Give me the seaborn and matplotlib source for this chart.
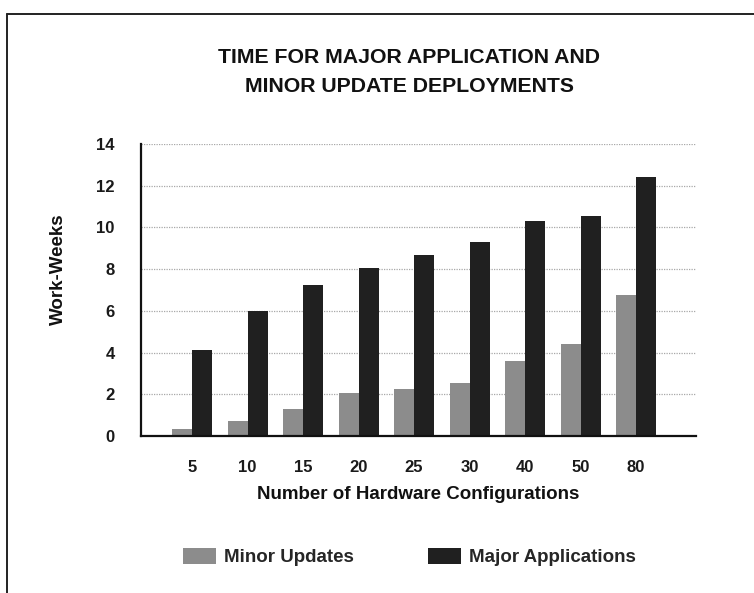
import matplotlib
matplotlib.use("Agg")
import matplotlib.pyplot as plt
from matplotlib.lines import Line2D
from matplotlib.patches import Patch
import numpy as np
import pandas as pd
import seaborn as sns

# Chart data
configs = ["5", "10", "15", "20", "25", "30", "40", "50", "80"]
minor_updates = [0.35, 0.7, 1.3, 2.05, 2.25, 2.55, 3.6, 4.4, 6.75]
major_apps = [4.1, 6.0, 7.25, 8.05, 8.7, 9.3, 10.3, 10.55, 12.4]
series_names = ["Minor Updates", "Major Applications"]
y_ticks = [0, 2, 4, 6, 8, 10, 12, 14]

title_text = "TIME FOR MAJOR APPLICATION AND\nMINOR UPDATE DEPLOYMENTS"
x_label = "Number of Hardware Configurations"
y_label = "Work-Weeks"

colors = {"Minor Updates": "#8c8c8c", "Major Applications": "#202020"}

df = pd.DataFrame({
    "config": configs * 2,
    "weeks": minor_updates + major_apps,
    "series": [series_names[0]] * len(configs) + [series_names[1]] * len(configs),
})

sns.set_theme(style="white")
plt.rcParams["font.family"] = ["Liberation Sans", "DejaVu Sans"]

fig = plt.figure(figsize=(7.54, 5.93), dpi=100)
fig.patch.set_facecolor("white")
W, H = 754, 593
ax = fig.add_axes([141 / W, (H - 436) / H, (696 - 141) / W, (436 - 144) / H])

sns.barplot(data=df, x="config", y="weeks", hue="series", order=configs,
            hue_order=series_names, palette=colors, width=0.72,
            saturation=1, edgecolor="none", linewidth=0, legend=False, ax=ax)

ax.set_xlim(-0.92, 9.08)
ax.set_ylim(0, 14)
ax.set_yticks(y_ticks)
ax.set_yticklabels([str(v) for v in y_ticks], fontsize=12, fontweight="bold",
                   color="#1a1a1a")
ax.set_xticks(range(len(configs)))
ax.set_xticklabels(configs, fontsize=12, fontweight="bold", color="#1a1a1a")
ax.tick_params(axis="y", length=9, width=0.8, color="#b5b5b5", pad=10)
ax.tick_params(axis="x", length=0, pad=17)

ax.yaxis.grid(True, color="#a8a8a8", linestyle=(0, (1, 1)), linewidth=0.9)
ax.set_axisbelow(True)
for side in ["top", "right"]:
    ax.spines[side].set_visible(False)
ax.spines["left"].set_color("#111111")
ax.spines["left"].set_linewidth(1.6)
ax.spines["bottom"].set_color("#111111")
ax.spines["bottom"].set_linewidth(1.6)

ax.set_xlabel(x_label, fontsize=13.5, fontweight="bold", color="#111111", labelpad=8.5)
ax.set_ylabel(y_label, fontsize=13.5, fontweight="bold", color="#111111")
ax.yaxis.set_label_coords(-0.134, 0.57)

fig.text(0.543, (H - 72) / H, title_text, ha="center", va="center",
         fontsize=15.3, fontweight="bold", color="#111111", linespacing=1.65)

handles = [Patch(facecolor=colors[s], edgecolor="none", label=s) for s in series_names]
fig.legend(handles=handles, loc="center left", bbox_to_anchor=(183 / W, (H - 557) / H),
           ncol=2, frameon=False, handlelength=1.75, handleheight=0.95,
           handletextpad=0.45, columnspacing=3.95, borderpad=0, borderaxespad=0,
           prop={"size": 13.5, "weight": "bold"})

# outer frame around the chart (left and top edges visible)
fig.add_artist(Line2D([7 / W, 7 / W], [0, (H - 14) / H], color="#222222",
                      linewidth=1.4, transform=fig.transFigure))
fig.add_artist(Line2D([7 / W, 1], [(H - 14) / H, (H - 14) / H], color="#222222",
                      linewidth=1.4, transform=fig.transFigure))

fig.savefig("out.png", dpi=100, facecolor="white")
